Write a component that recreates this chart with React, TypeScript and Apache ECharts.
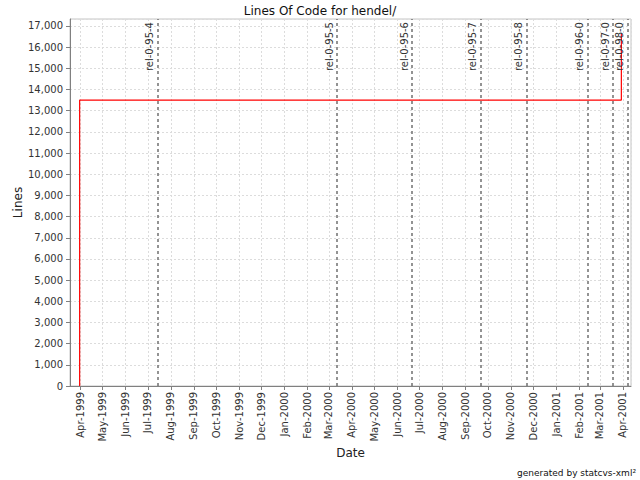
import React, { useEffect, useRef } from "react";
import * as echarts from "echarts";

// ---- data ----
const titleText = "Lines Of Code for hendel/";
const xAxisName = "Date";
const yAxisName = "Lines";
const footerText = "generated by statcvs-xml\u00b2";

const monthNames = ["Jan", "Feb", "Mar", "Apr", "May", "Jun", "Jul", "Aug", "Sep", "Oct", "Nov", "Dec"];

const locDates = ["1999-03-31", "1999-03-31", "2001-03-30"];
const locValues = [0, 13500, 16650];

const markerNames = [
  "rel-0-95-4",
  "rel-0-95-5",
  "rel-0-95-6",
  "rel-0-95-7",
  "rel-0-95-8",
  "rel-0-96-0",
  "rel-0-97-0",
  "rel-0-98-0",
];
const markerDates = [
  "1999-07-14",
  "2000-03-12",
  "2000-06-21",
  "2000-09-21",
  "2000-11-22",
  "2001-02-13",
  "2001-03-19",
  "2001-04-07",
];

const xMin = "1999-03-18";
const xMax = "2001-04-12";
const yMin = 0;
const yMax = 17330;
const yStep = 1000;

const FONT = "DejaVu Sans";

export default function App() {
  const ref = useRef<HTMLDivElement>(null);

  useEffect(() => {
    if (!ref.current) return;
    const chart = echarts.init(ref.current, null, { renderer: "svg" });

    const parse = (s: string) => {
      const [y, m, d] = s.split("-").map(Number);
      return new Date(y, m - 1, d).getTime();
    };

    const lineData = locDates.map((d, i) => [parse(d), locValues[i]]);
    const markData = markerNames.map((n, i) => ({
      xAxis: parse(markerDates[i]),
      label: { formatter: n },
    }));

    chart.setOption({
      animation: false,
      backgroundColor: "#ffffff",
      textStyle: { fontFamily: FONT },
      title: {
        text: titleText,
        left: "center",
        top: 0,
        textStyle: { fontFamily: FONT, fontSize: 12, fontWeight: "normal", color: "#111" },
      },
      grid: {
        left: 70,
        right: 9,
        top: 19,
        bottom: 94,
        show: true,
        borderColor: "#c4c4c4",
        borderWidth: 1,
        backgroundColor: "#ffffff",
      },
      xAxis: {
        type: "time",
        min: parse(xMin),
        max: parse(xMax),
        splitNumber: 24,
        name: xAxisName,
        nameLocation: "middle",
        nameGap: 61,
        nameMoveOverlap: false,
        nameTextStyle: { fontFamily: FONT, fontSize: 12, color: "#222" },
        axisLine: { show: true, lineStyle: { color: "#808080", width: 1 } },
        axisTick: { show: true, length: 4, lineStyle: { color: "#808080" } },
        minorTick: { show: false },
        axisLabel: {
          rotate: 90,
          margin: 6,
          fontFamily: FONT,
          fontSize: 10,
          color: "#333",
          hideOverlap: false,
          showMinLabel: false,
          showMaxLabel: false,
          formatter: (v: number) => {
            const d = new Date(v);
            return monthNames[d.getMonth()] + "-" + d.getFullYear();
          },
        },
        splitLine: { show: true, lineStyle: { color: "#dcdcdc", type: [2, 2], width: 1 } },
      },
      yAxis: {
        type: "value",
        min: yMin,
        max: yMax,
        interval: yStep,
        name: yAxisName,
        nameLocation: "middle",
        nameGap: 46,
        nameMoveOverlap: false,
        nameRotate: 90,
        nameTextStyle: { fontFamily: FONT, fontSize: 12, color: "#222" },
        axisLine: { show: true, lineStyle: { color: "#808080", width: 1 } },
        axisTick: { show: true, length: 4, lineStyle: { color: "#808080" } },
        axisLabel: {
          margin: 7,
          fontFamily: FONT,
          fontSize: 10,
          color: "#333",
          showMaxLabel: false,
          formatter: (v: number) => (v % yStep === 0 ? v.toLocaleString("en-US") : ""),
        },
        splitLine: { show: true, lineStyle: { color: "#dcdcdc", type: [2, 2], width: 1 } },
      },
      series: [
        {
          type: "line",
          step: "end",
          data: lineData,
          showSymbol: false,
          symbol: "none",
          lineStyle: { color: "#ff0000", width: 1.2 },
          itemStyle: { color: "#ff0000" },
          markLine: {
            silent: true,
            symbol: ["none", "none"],
            lineStyle: { color: "#707070", type: [3, 3], width: 1.5 },
            label: {
              show: true,
              position: "insideEndTop",
              distance: 3,
              fontFamily: FONT,
              fontSize: 10,
              color: "#333",
            },
            data: markData,
          },
        },
      ],
      graphic: [
        {
          type: "text",
          right: 4,
          bottom: 3,
          style: {
            text: footerText,
            fontFamily: FONT,
            fontSize: 9,
            fontWeight: "normal",
            fill: "#111",
          },
        },
      ],
    });

    return () => chart.dispose();
  }, []);

  return (
    <div
      ref={ref}
      style={{ position: "fixed", left: 0, top: 0, width: 640, height: 480 }}
    />
  );
}
